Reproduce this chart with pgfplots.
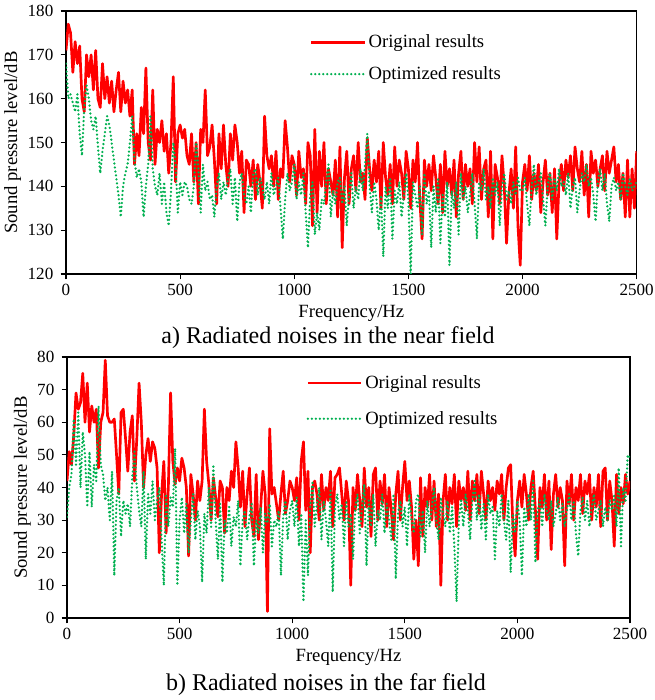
\documentclass[border=0pt]{standalone}
\usepackage{pgfplots}
\usepackage{pgfplotstable}
\pgfplotsset{compat=1.18}
\usepackage{fontspec}
\setmainfont{Liberation Serif}
\newfontfamily\tnr{Liberation Serif}
\definecolor{origc}{RGB}{255,0,0}
\definecolor{optc}{RGB}{0,176,80}

% near field, original (10 Hz steps, 0..2500 Hz)
\pgfplotstableread[row sep=\\, header=false]{
171\\177\\175\\166\\173\\168\\172\\160\\157\\170\\
165\\170\\162\\171\\160\\158\\168\\160\\165\\159\\
164\\157\\162\\166\\157\\164\\159\\162\\156\\162\\
145\\152\\147\\158\\152\\167\\150\\146\\162\\145\\
153\\150\\155\\148\\152\\143\\150\\165\\141\\152\\
154\\151\\153\\147\\145\\152\\141\\150\\136\\153\\
150\\162\\147\\149\\154\\146\\136\\152\\144\\154\\
145\\140\\152\\146\\154\\150\\143\\148\\134\\146\\
145\\140\\146\\137\\145\\141\\135\\156\\147\\144\\
147\\140\\148\\137\\144\\142\\155\\149\\141\\147\\
145\\138\\148\\142\\144\\136\\150\\147\\131\\153\\
134\\148\\140\\150\\136\\144\\141\\138\\146\\133\\
149\\126\\142\\148\\136\\144\\147\\139\\150\\141\\
143\\137\\151\\144\\139\\146\\141\\148\\135\\150\\
142\\138\\145\\136\\149\\140\\146\\143\\137\\148\\
144\\135\\146\\141\\150\\137\\128\\146\\140\\145\\
139\\147\\142\\136\\145\\134\\148\\140\\144\\138\\
146\\133\\143\\148\\137\\145\\140\\144\\136\\150\\
141\\149\\137\\144\\146\\133\\148\\128\\145\\142\\
136\\147\\140\\127\\138\\144\\135\\149\\131\\122\\
141\\145\\139\\147\\137\\143\\139\\145\\134\\141\\
146\\138\\143\\134\\144\\128\\141\\145\\139\\146\\
142\\147\\139\\149\\144\\141\\148\\138\\145\\133\\
148\\143\\146\\140\\144\\147\\139\\148\\143\\146\\
149\\141\\145\\137\\143\\133\\146\\133\\144\\135\\
148\\
}\nearorig

% near field, optimized
\pgfplotstableread[row sep=\\, header=false]{
168\\160\\161\\159\\157\\161\\152\\147\\158\\163\\
160\\155\\153\\156\\149\\143\\148\\152\\156\\154\\
150\\146\\142\\138\\133\\140\\143\\145\\150\\156\\
146\\142\\144\\141\\133\\140\\145\\156\\144\\140\\
138\\143\\136\\141\\134\\131\\139\\150\\145\\134\\
141\\138\\141\\140\\137\\136\\140\\150\\144\\134\\
145\\139\\141\\137\\138\\133\\140\\143\\137\\141\\
138\\142\\144\\136\\142\\132\\141\\143\\138\\136\\
140\\134\\143\\144\\138\\142\\140\\137\\141\\136\\
143\\138\\140\\142\\135\\128\\137\\143\\139\\141\\
145\\137\\141\\138\\143\\134\\126\\138\\141\\129\\
134\\130\\137\\136\\141\\145\\133\\139\\136\\141\\
142\\136\\140\\131\\138\\143\\135\\140\\137\\144\\
139\\145\\152\\140\\134\\141\\137\\130\\138\\124\\
140\\135\\142\\128\\139\\136\\141\\133\\138\\143\\
137\\120\\141\\138\\135\\140\\129\\143\\136\\139\\
126\\140\\134\\142\\127\\138\\133\\141\\122\\139\\
135\\141\\129\\143\\137\\140\\134\\138\\143\\136\\
128\\141\\139\\144\\137\\140\\135\\142\\138\\141\\
131\\140\\143\\137\\139\\136\\141\\138\\142\\139\\
139\\142\\136\\131\\140\\145\\138\\141\\143\\137\\
131\\140\\143\\137\\142\\139\\144\\140\\141\\138\\
143\\135\\140\\142\\134\\139\\143\\141\\145\\140\\
142\\138\\132\\141\\144\\139\\143\\136\\132\\140\\
142\\139\\141\\137\\143\\140\\138\\142\\139\\140\\
141\\
}\nearopt

% far field, original
\pgfplotstableread[row sep=\\, header=false]{
42\\51\\47\\56\\69\\64\\66\\75\\60\\72\\
57\\65\\60\\64\\46\\60\\63\\79\\62\\60\\
60\\61\\50\\38\\63\\64\\55\\45\\57\\62\\
42\\55\\72\\60\\40\\50\\55\\48\\54\\52\\
46\\20\\38\\48\\26\\40\\69\\48\\41\\46\\
42\\49\\46\\40\\19\\44\\38\\30\\42\\36\\
42\\64\\48\\41\\30\\43\\37\\31\\42\\40\\
26\\40\\36\\45\\40\\54\\46\\34\\45\\28\\
38\\46\\30\\25\\44\\24\\34\\45\\38\\2\\
58\\38\\40\\35\\30\\38\\45\\32\\36\\42\\
40\\36\\43\\30\\48\\54\\33\\45\\20\\40\\
42\\38\\30\\44\\33\\40\\36\\45\\28\\43\\
44\\46\\38\\30\\42\\36\\10\\40\\33\\44\\
36\\28\\46\\34\\40\\25\\44\\46\\30\\42\\
35\\44\\28\\40\\33\\24\\38\\45\\30\\40\\
48\\36\\42\\34\\18\\30\\16\\43\\25\\40\\
34\\44\\30\\42\\28\\38\\10\\36\\44\\30\\
40\\35\\44\\28\\42\\36\\40\\33\\45\\30\\
42\\36\\44\\32\\45\\38\\30\\42\\36\\40\\
33\\42\\38\\44\\30\\40\\46\\47\\28\\19\\
36\\42\\34\\44\\38\\30\\40\\45\\33\\18\\
40\\34\\44\\30\\42\\21\\38\\44\\34\\40\\
36\\16\\42\\35\\44\\30\\40\\36\\44\\32\\
42\\38\\44\\30\\40\\34\\44\\28\\45\\46\\
30\\42\\36\\22\\44\\32\\40\\35\\44\\38\\
42\\
}\farorig

% far field, optimized
\pgfplotstableread[row sep=\\, header=false]{
31\\40\\44\\61\\47\\63\\40\\57\\50\\34\\
51\\34\\47\\42\\65\\47\\44\\36\\40\\30\\
45\\13\\36\\40\\25\\36\\32\\35\\28\\43\\
51\\40\\33\\28\\45\\18\\38\\32\\42\\30\\
36\\40\\24\\10\\38\\28\\37\\34\\52\\10\\
30\\37\\26\\35\\20\\30\\38\\24\\33\\28\\
11\\32\\26\\40\\28\\47\\30\\18\\35\\11\\
30\\26\\34\\22\\31\\28\\36\\16\\30\\33\\
24\\31\\35\\16\\30\\26\\34\\20\\32\\29\\
35\\22\\30\\28\\33\\13\\31\\36\\24\\33\\
36\\28\\37\\22\\32\\5\\30\\13\\34\\42\\
28\\35\\40\\24\\36\\30\\22\\39\\8\\34\\
38\\30\\35\\22\\36\\28\\32\\18\\34\\38\\
26\\34\\41\\16\\36\\28\\38\\22\\33\\30\\
38\\26\\35\\30\\24\\38\\12\\32\\36\\28\\
34\\22\\38\\30\\26\\36\\38\\25\\33\\20\\
36\\28\\34\\40\\30\\24\\37\\32\\28\\36\\
26\\34\\22\\5\\30\\36\\28\\38\\33\\24\\
36\\42\\30\\38\\27\\35\\24\\38\\32\\34\\
18\\33\\28\\38\\30\\24\\36\\14\\32\\26\\
36\\30\\13\\34\\28\\38\\30\\42\\17\\33\\
36\\28\\38\\33\\30\\36\\28\\32\\37\\30\\
35\\28\\33\\38\\30\\36\\26\\19\\33\\37\\
30\\36\\28\\34\\38\\30\\33\\36\\28\\34\\
30\\36\\33\\38\\28\\46\\22\\40\\36\\50\\
49\\
}\faropt

\pgfplotsset{
  spec/.style={
    scale only axis,
    xmin=0, xmax=2500,
    xtick={0,500,...,2500},
    axis line style={line width=0.9pt},
    tick style={line width=0.9pt, black},
    tick align=outside,
    xtick pos=left, ytick pos=left,
    major tick length=4pt,
    ticklabel style={font=\tnr\fontsize{12.8}{15}\selectfont},
    yticklabel style={xshift=-2pt},
    /pgf/number format/assume math mode=true,
    /pgf/number format/1000 sep={},
    xlabel={Frequency/Hz},
    ylabel={Sound pressure level/dB},
    label style={font=\tnr\fontsize{14}{16}\selectfont},
    ylabel style={yshift=-2pt},
    legend cell align=left,
    legend style={draw=none, fill=none, font=\tnr\fontsize{14}{16}\selectfont,
      anchor=north west},
    legend image code/.code={\draw[##1] (0pt,0pt) -- (40pt,0pt);},
  },
  origplot/.style={color=origc, line width=2pt, line join=round},
  optplot/.style={color=optc, line width=1.9pt, line cap=round, line join=round,
    dash pattern=on 0pt off 3pt},
}

\begin{document}
\begin{tikzpicture}
\path[use as bounding box] (0,0) rectangle (490.5pt,525pt);

\begin{axis}[spec,
  at={(49.5pt,319.5pt)}, anchor=south west,
  width=428pt, height=197.25pt,
  ymin=120, ymax=180, ytick={120,130,...,180},
  legend style={at={(0.42,0.93)}, row sep=8.5pt}]
\addplot[origplot] table[x expr=\coordindex*10, y index=0] {\nearorig};
\addlegendentry{Original results}
\addplot[optplot] table[x expr=\coordindex*10, y index=0] {\nearopt};
\addlegendentry{Optimized results}
\end{axis}

\begin{axis}[spec,
  at={(50.25pt,61.5pt)}, anchor=south west,
  width=422.25pt, height=195.75pt,
  ymin=0, ymax=80, ytick={0,10,...,80},
  legend style={at={(0.418,0.95)}, row sep=11.5pt}]
\addplot[origplot] table[x expr=\coordindex*10, y index=0] {\farorig};
\addlegendentry{Original results}
\addplot[optplot] table[x expr=\coordindex*10, y index=0] {\faropt};
\addlegendentry{Optimized results}
\end{axis}

\node[font=\tnr\fontsize{18}{20}\selectfont] at (246pt,271.5pt) {a) Radiated noises in the near field};
\node[font=\tnr\fontsize{18}{20}\selectfont] at (244.5pt,11.25pt) {b) Radiated noises in the far field};
\end{tikzpicture}
\end{document}
